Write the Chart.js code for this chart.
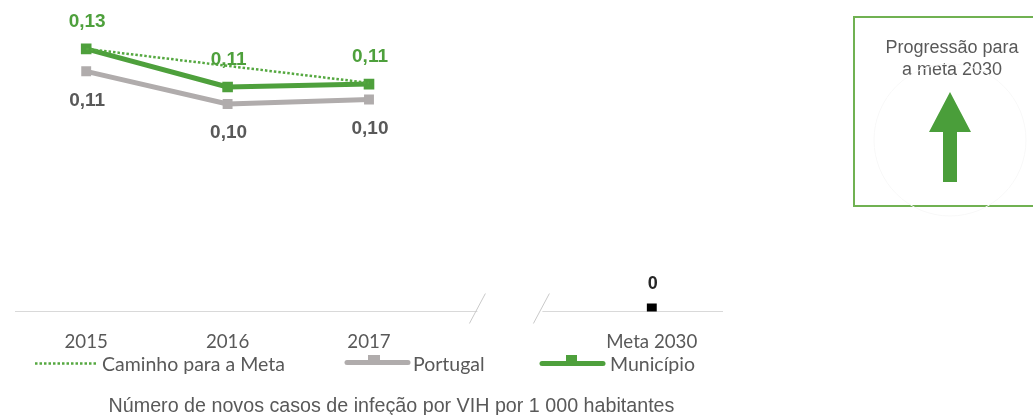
<!DOCTYPE html>
<html>
<head>
<meta charset="utf-8">
<script src="https://cdn.jsdelivr.net/npm/chart.js@4.4.1/dist/chart.umd.min.js"></script>
<style>
  html, body { margin: 0; padding: 0; background: #fff; }
  body { width: 1033px; height: 415px; position: relative; overflow: hidden; }
  #wrap { position: absolute; left: 0; top: 0; width: 1033px; height: 415px; }
  #box { position: absolute; left: 853px; top: 16px; width: 194px; height: 187px; border: 2px solid #70b152;
         box-sizing: content-box; font-family: "Liberation Sans", Arial, sans-serif; font-size: 18px;
         line-height: 22px; color: #595959; text-align: center; }
  #box .txt { position: absolute; left: 0; right: 0; top: 18px; }
  #arrow { position: absolute; left: 0; top: 0; }
</style>
</head>
<body>
<div id="wrap"><canvas id="c" width="1033" height="415"></canvas></div>
<div id="box"><div class="txt">Progressão para<br>a meta 2030</div></div>
<svg id="arrow" width="1033" height="415" viewBox="0 0 1033 415">
  <circle cx="950" cy="140" r="76" fill="none" stroke="#f8f8f8" stroke-width="1"/>
  <polygon points="950,92 971,132 957,132 957,182 943,182 943,132 929,132" fill="#4a9e3a"/>
</svg>
<script>
// ---- data ----
const categories = ['2015', '2016', '2017', '', 'Meta 2030'];
const caminho    = [0.1277, 0.1177, 0.1077, null, null];
const portugal   = [0.1145, 0.0953, 0.0980, null, null];
const municipio  = [0.1277, 0.1053, 0.1070, null, null];
const meta       = [null, null, null, null, 0];
const seriesNames = ['Caminho para a Meta', 'Portugal', 'Município', 'Meta 2030'];
const axisTitle = 'Número de novos casos de infeção por VIH por 1 000 habitantes';

const GREEN = '#4ea03c', DOT = '#55a840', GRAY = '#b0acac', TXT = '#595959';

function fmt(v) { return v === 0 ? '0' : v.toFixed(2).replace('.', ','); }

const overlay = {
  id: 'overlay',
  afterDatasetsDraw(chart) {
    const ctx = chart.ctx;
    const x = chart.scales.x;
    const yB = chart.chartArea.bottom;
    // axis break
    const mid = x.getPixelForValue(3);
    ctx.save();
    ctx.fillStyle = '#fff';
    ctx.fillRect(mid - 33, yB - 3, 65, 6);
    ctx.strokeStyle = '#c9c9c9';
    ctx.lineWidth = 1;
    [-33, 31].forEach(d => {
      ctx.beginPath();
      ctx.moveTo(mid + d + 8, yB - 18);
      ctx.lineTo(mid + d - 8, yB + 12);
      ctx.stroke();
    });
    // data labels
    ctx.textAlign = 'center';
    ctx.textBaseline = 'middle';
    chart.data.datasets.forEach((ds, i) => {
      if (!ds.labelPos) return;
      const metaSet = chart.getDatasetMeta(i);
      ds.data.forEach((v, j) => {
        if (v === null) return;
        const p = metaSet.data[j];
        ctx.font = ds.labelFont;
        ctx.fillStyle = ds.labelColor;
        ctx.fillText(fmt(v), p.x + 1, p.y + ds.labelPos);
      });
    });
    ctx.restore();
  },
  afterDraw(chart) {
    const ctx = chart.ctx;
    const ds = chart.data.datasets;
    ctx.save();
    ctx.font = '19.5px Lato, sans-serif';
    ctx.fillStyle = TXT;
    ctx.textBaseline = 'middle';
    ctx.textAlign = 'left';
    // legend: Caminho
    ctx.strokeStyle = ds[0].borderColor; ctx.lineWidth = 2.5; ctx.setLineDash([2.5, 2]);
    ctx.beginPath(); ctx.moveTo(35, 363.5); ctx.lineTo(98, 363.5); ctx.stroke();
    ctx.setLineDash([]);
    ctx.fillText(ds[0].label, 102, 365);
    // Portugal
    ctx.strokeStyle = ds[1].borderColor; ctx.lineWidth = 5; ctx.lineCap = 'round';
    ctx.beginPath(); ctx.moveTo(347, 362.5); ctx.lineTo(408, 362.5); ctx.stroke();
    ctx.fillStyle = ds[1].borderColor; ctx.fillRect(368, 355, 12, 8);
    ctx.fillStyle = TXT; ctx.fillText(ds[1].label, 413, 365);
    // Município
    ctx.strokeStyle = ds[2].borderColor;
    ctx.beginPath(); ctx.moveTo(542, 363.5); ctx.lineTo(603, 363.5); ctx.stroke();
    ctx.fillStyle = ds[2].borderColor; ctx.fillRect(566, 355, 11, 8);
    ctx.fillStyle = TXT; ctx.fillText(ds[2].label, 610, 365);
    // axis title
    ctx.font = '19.7px "Liberation Sans", Arial, sans-serif';
    ctx.textAlign = 'center';
    ctx.textBaseline = 'alphabetic';
    ctx.fillText(axisTitle, 391.5, 412);
    ctx.restore();
  }
};

new Chart(document.getElementById('c'), {
  type: 'line',
  data: {
    labels: categories,
    datasets: [
      { label: seriesNames[0], data: caminho, borderColor: DOT, borderWidth: 2.5, borderDash: [2.5, 2],
        pointRadius: 0, yAxisID: 'y', order: 0, fill: false },
      { label: seriesNames[1], data: portugal, borderColor: GRAY, backgroundColor: GRAY, borderWidth: 5,
        pointStyle: 'rect', pointRadius: 7, pointBorderWidth: 0, pointBackgroundColor: GRAY,
        yAxisID: 'y', order: 2, borderJoinStyle: 'round',
        labelPos: 29, labelFont: 'bold 19px "Liberation Sans", Arial, sans-serif', labelColor: TXT },
      { label: seriesNames[2], data: municipio, borderColor: GREEN, backgroundColor: GREEN, borderWidth: 5,
        pointStyle: 'rect', pointRadius: 7.5, pointBorderWidth: 0, pointBackgroundColor: GREEN,
        yAxisID: 'y', order: 1, borderJoinStyle: 'round',
        labelPos: -27, labelFont: 'bold 19px "Liberation Sans", Arial, sans-serif', labelColor: GREEN },
      { label: seriesNames[3], data: meta, showLine: false, borderColor: '#000', backgroundColor: '#000',
        pointStyle: 'rect', pointRadius: 7, pointBorderWidth: 0, pointBackgroundColor: '#000',
        yAxisID: 'y2', order: 3,
        labelPos: -24, labelFont: 'bold 18px "Liberation Sans", Arial, sans-serif', labelColor: '#262626' }
    ]
  },
  options: {
    responsive: false,
    animation: false,
    events: [],
    layout: { padding: { left: 15.5, right: 310.5, top: 10, bottom: 63.5 } },
    plugins: { legend: { display: false }, tooltip: { enabled: false }, title: { display: false } },
    scales: {
      x: {
        type: 'category', offset: true,
        grid: { display: false, drawTicks: false },
        border: { display: true, color: '#d9d9d9', width: 1 },
        ticks: { color: TXT, font: { family: 'Lato', size: 18.7 }, padding: 19, maxRotation: 0, autoSkip: false },
        afterFit(s) { s.height = 40; }
      },
      y: { display: false, min: -0.0265, max: 0.1505 },
      y2: { display: false, min: -0.01, max: 1 }
    }
  },
  plugins: [overlay]
});
</script>
</body>
</html>
